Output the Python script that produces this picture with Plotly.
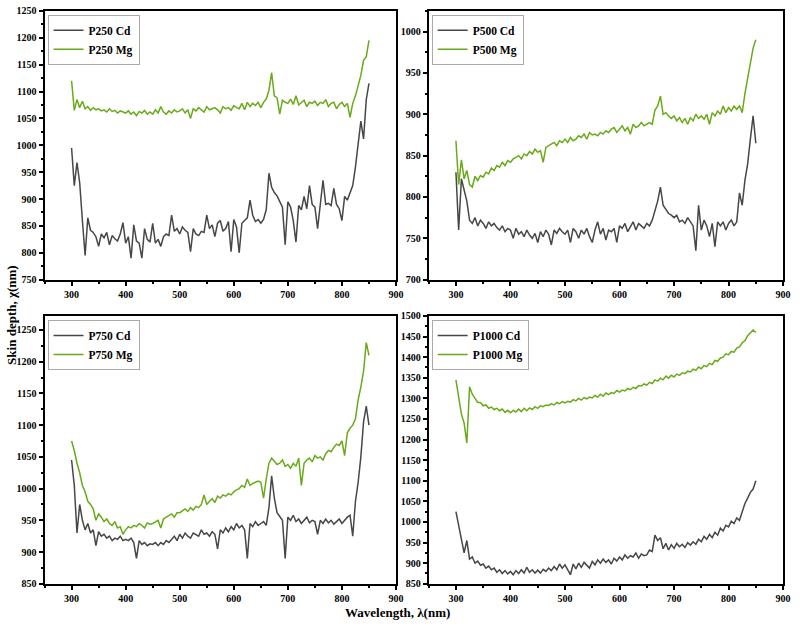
import plotly.graph_objects as go

# Wavelength grid (nm)
wavelength = [300, 305, 310, 315, 320, 325, 330, 335, 340, 345,
              350, 355, 360, 365, 370, 375, 380, 385, 390, 395,
              400, 405, 410, 415, 420, 425, 430, 435, 440, 445,
              450, 455, 460, 465, 470, 475, 480, 485, 490, 495,
              500, 505, 510, 515, 520, 525, 530, 535, 540, 545,
              550, 555, 560, 565, 570, 575, 580, 585, 590, 595,
              600, 605, 610, 615, 620, 625, 630, 635, 640, 645,
              650, 655, 660, 665, 670, 675, 680, 685, 690, 695,
              700, 705, 710, 715, 720, 725, 730, 735, 740, 745,
              750, 755, 760, 765, 770, 775, 780, 785, 790, 795,
              800, 805, 810, 815, 820, 825, 830, 835, 840, 845,
              850]

p250_cd = [995, 925, 968, 930, 860, 795, 865, 842, 838, 830,
           812, 835, 828, 838, 815, 832, 826, 822, 835, 856,
           818, 830, 790, 852, 822, 818, 790, 845, 825, 820,
           855, 818, 825, 812, 830, 835, 832, 870, 840, 845,
           835, 848, 842, 838, 802, 845, 835, 832, 840, 838,
           870, 845, 852, 830, 855, 860, 840, 845, 858, 802,
           862, 848, 800, 855, 860, 865, 898, 870, 858, 862,
           855, 862, 880, 948, 922, 912, 906, 895, 885, 815,
           895, 885, 860, 820, 888, 880, 905, 882, 925, 890,
           885, 845, 888, 935, 890, 892, 888, 920, 890, 882,
           860, 905, 898, 910, 925, 960, 1000, 1045, 1012, 1085,
           1115]
p250_mg = [1120, 1065, 1085, 1070, 1082, 1068, 1072, 1065, 1070, 1066,
           1068, 1064, 1066, 1062, 1068, 1063, 1065, 1060, 1064, 1062,
           1060, 1064, 1058, 1062, 1055, 1063, 1060, 1065, 1058, 1062,
           1058, 1066, 1060, 1072, 1062, 1058, 1064, 1060, 1066, 1062,
           1064, 1068, 1060, 1066, 1050, 1068, 1064, 1070, 1066, 1062,
           1072, 1066, 1068, 1070, 1066, 1060, 1072, 1068, 1070, 1065,
           1074, 1070, 1068, 1078, 1066, 1080, 1072, 1078, 1074, 1080,
           1070, 1080, 1086, 1102, 1135, 1092, 1088, 1058, 1084, 1080,
           1078, 1086, 1076, 1092, 1075, 1080, 1084, 1072, 1080, 1078,
           1082, 1074, 1080, 1078, 1085, 1072, 1078, 1080, 1068, 1076,
           1080, 1072, 1078, 1052, 1078, 1092, 1112, 1130, 1158, 1165,
           1195]

p500_cd = [830, 760, 822, 810, 795, 772, 768, 775, 765, 772,
           768, 762, 770, 765, 768, 763, 760, 765, 758, 762,
           760, 750, 762, 755, 758, 752, 760, 754, 750, 756,
           745, 758, 752, 760, 755, 742, 760, 756, 762, 758,
           755, 760, 745, 762, 758, 750, 760, 755, 762, 752,
           745, 760, 770, 755, 762, 748, 760, 758, 762, 745,
           765, 762, 768, 758, 765, 770, 760, 768, 765, 762,
           768, 765, 772, 785, 795, 812, 790, 785, 780, 778,
           775, 778, 770, 772, 768, 775, 770, 765, 735, 790,
           760, 772, 765, 752, 768, 740, 770, 765, 770, 760,
           768, 772, 765, 770, 805, 790, 820, 840, 870, 898,
           865]
p500_mg = [868, 815, 845, 822, 832, 815, 812, 825, 820, 826,
           824, 830, 828, 835, 832, 838, 836, 842, 838, 844,
           842, 846, 848, 850, 846, 852, 850, 855, 852, 858,
           854, 856, 842, 860, 862, 864, 866, 862, 868, 866,
           870, 866, 872, 868, 870, 874, 872, 876, 870, 878,
           875, 876, 874, 878, 876, 880, 878, 882, 884, 878,
           882, 886, 880, 884, 876, 888, 884, 886, 890, 886,
           888, 890, 888, 905, 910, 922, 900, 902, 898, 895,
           898, 892, 896, 890, 895, 888, 896, 892, 900, 895,
           898, 894, 900, 888, 902, 898, 904, 900, 910, 902,
           908, 904, 910, 906, 910, 902, 925, 945, 960, 980,
           990]

p750_cd = [1045, 1005, 930, 975, 950, 935, 945, 930, 935, 910,
           932, 925, 928, 922, 925, 918, 922, 920, 925, 918,
           920, 918, 922, 915, 890, 918, 912, 915, 910, 913,
           912, 915, 910, 915, 912, 918, 915, 920, 925, 918,
           928, 922, 930, 925, 922, 930, 928, 925, 935, 928,
           930, 925, 932, 928, 905, 935, 930, 938, 932, 940,
           935, 945, 938, 942, 935, 890, 945, 940, 948, 942,
           945, 948, 942, 970, 1020, 985, 962, 955, 950, 890,
           955, 950, 958, 948, 952, 945, 950, 955, 946, 950,
           948, 928, 950, 945, 952, 946, 950, 944, 948, 952,
           945, 950, 955, 958, 925, 980, 1010, 1050, 1105, 1130,
           1100]
p750_mg = [1075, 1060, 1040, 1025, 1005, 995, 980, 975, 968, 950,
           960, 955, 948, 952, 945, 942, 948, 938, 940, 928,
           935, 940, 938, 942, 940, 945, 942, 938, 946, 944,
           945, 948, 950, 938, 952, 955, 958, 960, 955, 962,
           962, 965, 968, 964, 970, 966, 972, 970, 975, 990,
           975, 980, 984, 978, 988, 985, 990, 988, 992, 990,
           995, 998, 1000, 1005, 1002, 1015, 1005, 1008, 1010, 1012,
           1010, 985, 1015, 1040, 1048, 1042, 1038, 1040, 1045, 1035,
           1038, 1032, 1040, 1035, 1048, 1005, 1040, 1045, 1048, 1042,
           1052, 1048, 1050, 1045, 1055, 1060, 1058, 1065, 1070, 1068,
           1075, 1052, 1088, 1095, 1100, 1110, 1140, 1160, 1185, 1230,
           1210]

p1000_cd = [1025, 990, 962, 925, 955, 910, 915, 900, 905, 895,
            898, 888, 893, 884, 888, 878, 884, 875, 882, 874,
            880, 872, 882, 875, 884, 876, 890, 878, 884, 876,
            883, 876, 885, 880, 888, 882, 892, 884, 898, 888,
            896, 885, 872, 898, 886, 900, 890, 902, 895, 888,
            904, 896, 908, 900, 910, 902, 908, 898, 912, 905,
            915, 908, 920, 912, 918, 915, 925, 912, 922, 918,
            920, 932, 928, 968, 955, 962, 935, 948, 932, 945,
            936, 948, 940, 946, 938, 950, 944, 952, 946, 958,
            952, 965, 958, 970, 962, 975, 968, 985, 978, 992,
            988, 1002, 996, 1010, 1004, 1025, 1045, 1058, 1072, 1080,
            1100]
p1000_mg = [1345, 1305, 1262, 1240, 1192, 1328, 1310, 1300, 1290, 1290,
            1282, 1284, 1276, 1279, 1273, 1276, 1270, 1274, 1266, 1271,
            1265, 1271, 1267, 1274, 1268, 1276, 1270, 1277, 1273, 1280,
            1276, 1282, 1280, 1284, 1283, 1287, 1284, 1290, 1287, 1292,
            1289, 1293, 1291, 1297, 1294, 1300, 1296, 1302, 1299, 1303,
            1301, 1307, 1303, 1310, 1305, 1313, 1309, 1314, 1312, 1319,
            1315, 1320, 1318, 1324, 1321, 1327, 1324, 1331, 1330, 1335,
            1332, 1339, 1336, 1345, 1342, 1349, 1345, 1354, 1349, 1356,
            1352, 1359, 1356, 1362, 1360, 1366, 1364, 1371, 1368, 1376,
            1372, 1380, 1377, 1385, 1382, 1392, 1390, 1398, 1400, 1408,
            1406, 1414, 1412, 1422, 1425, 1435, 1440, 1452, 1458, 1466,
            1460]

panels = [
    ("P250", p250_cd, p250_mg, [750, 1250]),
    ("P500", p500_cd, p500_mg, [700, 1025]),
    ("P750", p750_cd, p750_mg, [850, 1272]),
    ("P1000", p1000_cd, p1000_mg, [850, 1500]),
]
x_ticks = [300, 400, 500, 600, 700, 800, 900]

W, H = 800, 630
# pixel boxes: (left, right, top, bottom)
boxes = [(45, 400, 5, 279), (433, 791, 5, 279),
         (45, 400, 316, 589), (433, 791, 316, 589)]

CD_COLOR = "#474747"
MG_COLOR = "#6aaa1a"
FONT = "Liberation Serif"

fig = go.Figure()
layout = {}
for i, (name, cd, mg, yr) in enumerate(panels):
    n = i + 1
    sfx = "" if n == 1 else str(n)
    leg = "legend" if n == 1 else f"legend{n}"
    fig.add_trace(go.Scatter(x=wavelength, y=cd, mode="lines", name=f"{name} Cd",
                             line=dict(color=CD_COLOR, width=1.5),
                             xaxis=f"x{sfx}", yaxis=f"y{sfx}", legend=leg))
    fig.add_trace(go.Scatter(x=wavelength, y=mg, mode="lines", name=f"{name} Mg",
                             line=dict(color=MG_COLOR, width=1.5),
                             xaxis=f"x{sfx}", yaxis=f"y{sfx}", legend=leg))
    l, r, t, b = boxes[i]
    common = dict(showline=True, linewidth=2, linecolor="black", mirror=True,
                  ticks="outside", ticklen=4, tickwidth=1.5, tickcolor="black",
                  showgrid=False, zeroline=False,
                  tickfont=dict(family=FONT, size=10, color="black", weight="bold"))
    layout[f"xaxis{sfx}"] = dict(common, domain=[l / W, r / W], range=[250, 900],
                                 anchor=f"y{sfx}", tickvals=x_ticks,
                                 minor=dict(ticks="outside", ticklen=2, tickwidth=1.5,
                                            dtick=50, tick0=250, tickcolor="black"))
    layout[f"yaxis{sfx}"] = dict(common, domain=[1 - b / H, 1 - t / H], range=yr,
                                 anchor=f"x{sfx}", dtick=50, tick0=0,
                                 minor=dict(ticks="outside", ticklen=2, tickwidth=1.5,
                                            dtick=25, tick0=0, tickcolor="black"))
    layout[leg] = dict(x=(l + 3) / W, y=1 - (t + 4) / H, xanchor="left", yanchor="top",
                       bgcolor="white", bordercolor="#aaaaaa", borderwidth=1,
                       font=dict(family=FONT, size=11.5, color="black", weight="bold"),
                       tracegroupgap=0, itemwidth=30)

fig.update_layout(**layout)
fig.update_layout(
    width=W, height=H, margin=dict(l=0, r=0, t=0, b=0),
    paper_bgcolor="white", plot_bgcolor="white", showlegend=True,
    annotations=[
        dict(text="Skin depth, χ(nm)", x=11 / W, y=0.5, xref="paper", yref="paper",
             xanchor="center", yanchor="middle",
             textangle=-90, showarrow=False,
             font=dict(family=FONT, size=13, color="black", weight="bold")),
        dict(text="Wavelength, λ(nm)", x=0.5025, y=1 - 618 / H, xref="paper", yref="paper",
             xanchor="center", yanchor="middle",
             showarrow=False,
             font=dict(family=FONT, size=13, color="black", weight="bold")),
    ],
)
fig.write_html("out.html")
